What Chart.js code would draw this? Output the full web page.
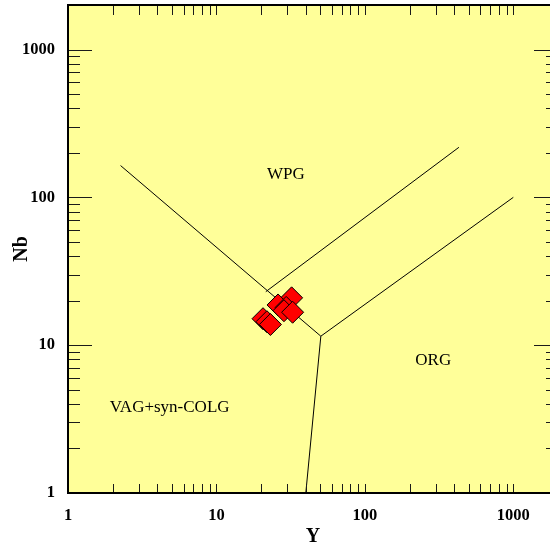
<!DOCTYPE html>
<html>
<head>
<meta charset="utf-8">
<script src="https://cdn.jsdelivr.net/npm/chart.js@4/dist/chart.umd.min.js"></script>
<style>
  html, body { margin: 0; padding: 0; overflow: hidden; background: #ffffff; }
  canvas { display: block; }
</style>
</head>
<body>
<canvas id="chart" width="558" height="552"></canvas>
<script>
// Labelled decades on both log axes
const xTickValues = [1, 10, 100, 1000];
const yTickValues = [1, 10, 100, 1000];

// Sample analyses (ppm), back to front
const sampleY  = [32.1, 26.0, 29.5, 28.5, 32.6, 20.6, 21.9, 23.1];
const sampleNb = [20.9, 18.7, 18.0, 17.1, 16.7, 15.1, 14.4, 13.8];

// Field boundaries (Y, Nb pairs)
const lineVagWpgY  = [2.26, 50.5];
const lineVagWpgNb = [164, 11.5];
const lineWpgOrgY  = [21.5, 430];
const lineWpgOrgNb = [23.0, 218];
const lineOrgUpperY  = [50.5, 1000];
const lineOrgUpperNb = [11.5, 100];
const lineOrgLowerY  = [40, 50.5];
const lineOrgLowerNb = [1, 11.5];

// Field names and where they sit
const fieldNames = ['WPG', 'ORG', 'VAG+syn-COLG'];
const fieldY  = [29.4, 289, 4.84];
const fieldNb = [142, 7.83, 3.76];

const toPoints = (xs, ys) => xs.map((x, i) => ({ x: x, y: ys[i] }));

const lineStyle = {
  showLine: true, pointRadius: 0, borderColor: '#000000', borderWidth: 1,
  backgroundColor: 'transparent', fill: false, tension: 0
};

// Every tick position: 1..9 x each decade up to the axis limit
const minorValues = [];
[1, 10, 100, 1000].forEach(d => {
  for (let m = 1; m <= 9; m++) { if (m * d <= 2000) minorValues.push(m * d); }
});

const framePlugin = {
  id: 'frame',
  beforeDraw(chart) {
    const a = chart.chartArea, ctx = chart.ctx;
    ctx.save();
    ctx.fillStyle = '#FFFF99';
    ctx.fillRect(a.left, a.top, a.right - a.left, a.bottom - a.top);
    ctx.restore();
  },
  afterDatasetsDraw(chart) {
    const a = chart.chartArea, ctx = chart.ctx;
    const sx = chart.scales.x, sy = chart.scales.y;
    ctx.save();
    // field names
    ctx.fillStyle = '#000000';
    ctx.font = '17px "Liberation Serif", "Times New Roman", serif';
    ctx.textAlign = 'center';
    ctx.textBaseline = 'middle';
    fieldNames.forEach((t, i) => {
      ctx.fillText(t, sx.getPixelForValue(fieldY[i]), sy.getPixelForValue(fieldNb[i]));
    });
    // inward tick marks
    ctx.strokeStyle = '#1a1a1a';
    ctx.lineWidth = 1;
    ctx.beginPath();
    minorValues.forEach(v => {
      const px = Math.round(sx.getPixelForValue(v)) + 0.5;
      ctx.moveTo(px, a.bottom); ctx.lineTo(px, a.bottom - 9);
      ctx.moveTo(px, a.top); ctx.lineTo(px, a.top + 10);
      const py = Math.round(sy.getPixelForValue(v)) + 0.5;
      const len = yTickValues.includes(v) ? 24 : 12;
      ctx.moveTo(a.left, py); ctx.lineTo(a.left + len, py);
      ctx.moveTo(a.right, py); ctx.lineTo(a.right - len, py);
    });
    ctx.stroke();
    // plot frame
    ctx.strokeStyle = '#000000';
    ctx.lineWidth = 2;
    ctx.strokeRect(a.left, a.top, a.right - a.left, a.bottom - a.top);
    ctx.restore();
  }
};

new Chart(document.getElementById('chart'), {
  type: 'scatter',
  data: {
    datasets: [
      {
        data: toPoints(sampleY, sampleNb),
        pointStyle: 'rectRot', pointRadius: 11,
        backgroundColor: '#FF0000', borderColor: '#000000', borderWidth: 1
      },
      Object.assign({ data: toPoints(lineVagWpgY, lineVagWpgNb) }, lineStyle),
      Object.assign({ data: toPoints(lineWpgOrgY, lineWpgOrgNb) }, lineStyle),
      Object.assign({ data: toPoints(lineOrgUpperY, lineOrgUpperNb) }, lineStyle),
      Object.assign({ data: toPoints(lineOrgLowerY, lineOrgLowerNb) }, lineStyle)
    ]
  },
  options: {
    responsive: false,
    animation: false,
    devicePixelRatio: 1,
    layout: { autoPadding: false, padding: { top: 5, right: 0, bottom: 0, left: 0 } },
    plugins: { legend: { display: false }, tooltip: { enabled: false } },
    scales: {
      x: {
        type: 'logarithmic', position: 'bottom', min: 1, max: 2000,
        grid: { display: false, drawTicks: false, tickLength: 0 },
        border: { display: false },
        afterBuildTicks: s => { s.ticks = xTickValues.map(v => ({ value: v })); },
        afterFit: s => { s.height = 59; s.paddingLeft = 0; s.paddingRight = 0; s.paddingTop = 0; s.paddingBottom = 0; },
        ticks: {
          color: '#000000', padding: 13, maxRotation: 0, autoSkip: false,
          font: { family: '"Liberation Serif", "Times New Roman", serif', size: 16.5, weight: 'bold' },
          callback: v => String(v)
        },
        title: {
          display: true, text: 'Y', color: '#000000',
          font: { family: '"Liberation Serif", "Times New Roman", serif', size: 20, weight: 'bold' },
          padding: { top: 0, bottom: 3 }
        }
      },
      y: {
        type: 'logarithmic', position: 'left', min: 1, max: 2000,
        grid: { display: false, drawTicks: false, tickLength: 0 },
        border: { display: false },
        afterBuildTicks: s => { s.ticks = yTickValues.map(v => ({ value: v })); },
        afterFit: s => { s.width = 68; s.paddingLeft = 0; s.paddingRight = 0; s.paddingTop = 0; s.paddingBottom = 0; },
        ticks: {
          color: '#000000', padding: 13, autoSkip: false,
          font: { family: '"Liberation Serif", "Times New Roman", serif', size: 16.5, weight: 'bold' },
          callback: v => String(v)
        },
        title: {
          display: true, text: 'Nb', color: '#000000',
          font: { family: '"Liberation Serif", "Times New Roman", serif', size: 20, weight: 'bold' },
          padding: { top: 10, bottom: 0 }
        }
      }
    }
  },
  plugins: [framePlugin]
});
</script>
</body>
</html>
